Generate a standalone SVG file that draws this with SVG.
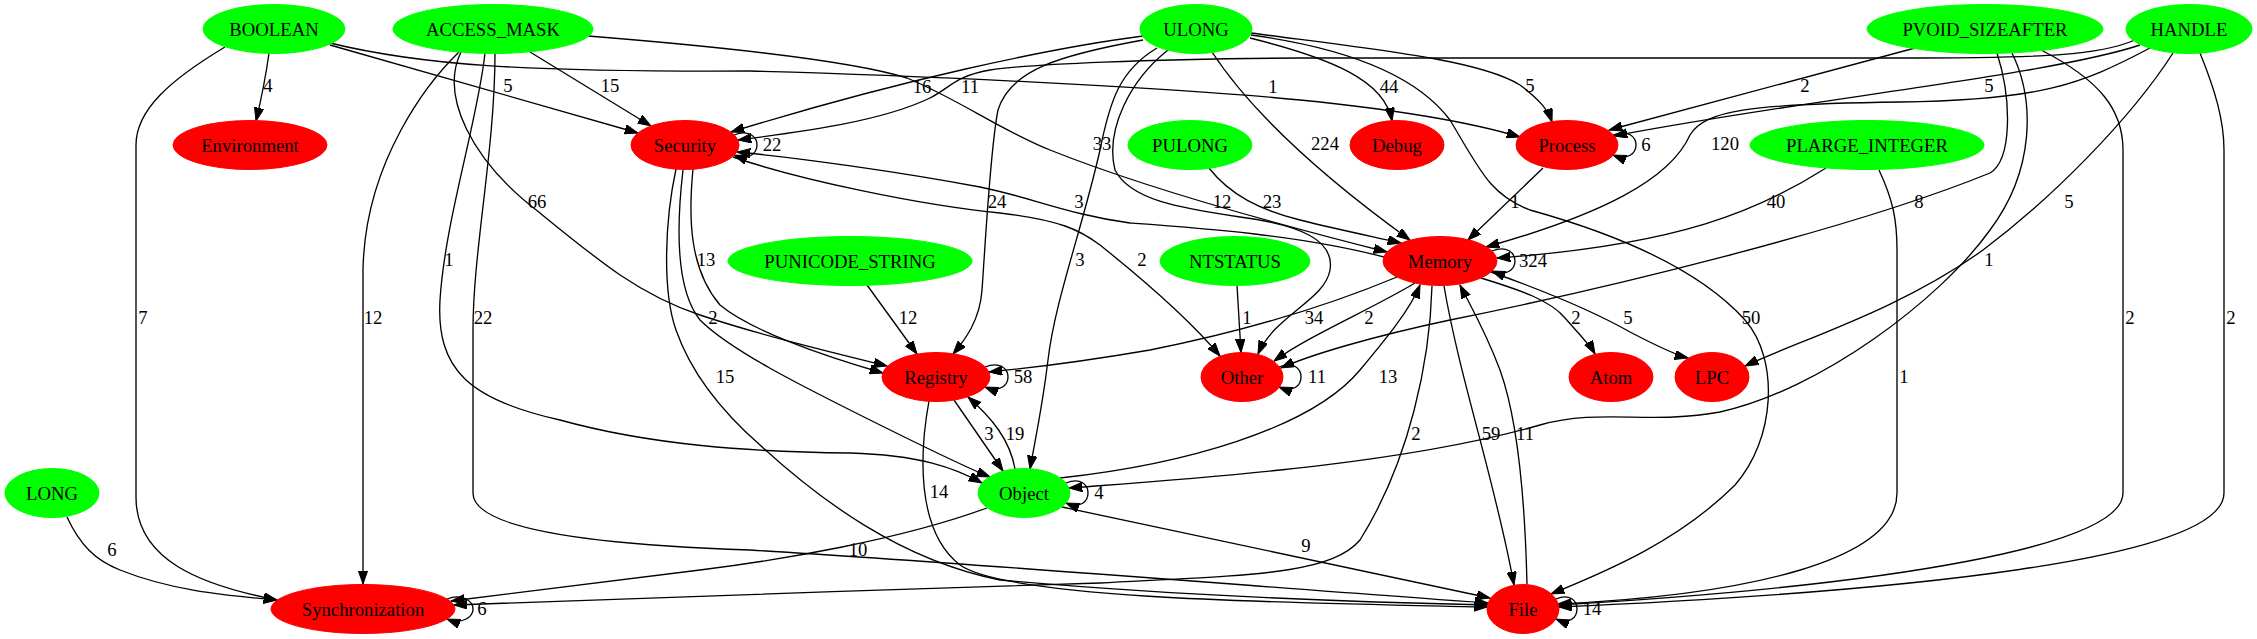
<svg xmlns="http://www.w3.org/2000/svg" width="2257" height="639" viewBox="0 0 2257 639">
<style>
.edge path{fill:none;stroke:#000;stroke-width:1.33;marker-end:url(#arr)}
text{font-family:"Liberation Serif","Times New Roman",serif;font-size:18.7px;text-anchor:middle;fill:#000}
.g ellipse{fill:#00ff00;stroke:#00ff00}
.r ellipse{fill:#ff0000;stroke:#ff0000}
</style>
<defs>
<marker id="arr" markerUnits="userSpaceOnUse" markerWidth="14" markerHeight="10" refX="13.3" refY="4.7" orient="auto">
<path d="M0,0 L13.3,4.7 L0,9.4 z" fill="#000" stroke="#000" stroke-width="1"/>
</marker>
</defs>
<rect width="2257" height="639" fill="#fff"/>
<g id="edges">
<g class="edge"><path d="M269,53 C266,75 261,100 256,121"/><text x="268" y="92">4</text></g>
<g class="edge"><path d="M330,45 L638,133"/><text x="508" y="92">5</text></g>
<g class="edge"><path d="M330,43 C420,65 520,72 750,71 C950,76 1200,90 1300,100 C1400,110 1470,122 1520,137"/><text x="1273" y="93">1</text></g>
<g class="edge"><path d="M225,47 C170,80 136,110 136,145 L136,497 C136,560 200,585 277,600"/><text x="143" y="324">7</text></g>
<g class="edge"><path d="M530,52 L651,126"/><text x="610" y="92">15</text></g>
<g class="edge"><path d="M461,52 C440,95 470,160 540,213 C600,262 640,295 700,315 C760,335 830,352 887,366"/><text x="537" y="208">66</text></g>
<g class="edge"><path d="M485,53 C478,120 445,220 440,300 C436,370 470,400 560,420 C650,445 750,452 850,453 C920,455 955,468 982,483"/><text x="449" y="266">1</text></g>
<g class="edge"><path d="M459,52 C430,80 365,160 363,270 L363,584"/><text x="373" y="324">12</text></g>
<g class="edge"><path d="M495,53 C495,150 473,250 473,330 L473,493 C473,530 600,545 750,550 C1000,565 1300,590 1488,603"/><text x="483" y="324">22</text></g>
<g class="edge"><path d="M588,36 C700,45 850,60 907,78 C960,100 1000,130 1050,150 C1150,190 1280,225 1387,252"/><text x="1102" y="150">33</text></g>
<g class="edge"><path d="M1143,36 C1050,48 900,80 731,132"/><text x="922" y="93">16</text></g>
<g class="edge"><path d="M1143,40 C1060,55 1010,70 998,110 C990,150 985,250 982,290 C980,320 965,340 953,354"/><text x="997" y="208">24</text></g>
<g class="edge"><path d="M1157,48 C1120,70 1110,100 1100,150 C1082,230 1055,300 1048,360 C1042,410 1035,440 1030,469"/><text x="1080" y="266">3</text></g>
<g class="edge"><path d="M1212,52 C1250,110 1320,175 1410,240"/><text x="1325" y="150">224</text></g>
<g class="edge"><path d="M1168,50 C1130,80 1105,130 1115,170 C1130,200 1180,208 1240,217 C1300,225 1335,240 1330,270 C1325,300 1275,315 1258,354"/><text x="1222" y="208">12</text></g>
<g class="edge"><path d="M1250,38 C1330,58 1385,80 1392,121"/><text x="1389" y="93">44</text></g>
<g class="edge"><path d="M1251,33 C1380,50 1480,60 1520,85 C1540,100 1548,110 1552,122"/><text x="1530" y="92">5</text></g>
<g class="edge"><path d="M1251,35 C1360,50 1420,80 1450,120 C1480,170 1490,195 1530,210 C1620,235 1700,270 1745,320 C1780,360 1775,440 1735,485 C1680,540 1610,570 1551,594"/><text x="1751" y="324">50</text></g>
<g class="edge"><path d="M1209,168 C1230,195 1260,210 1300,220 C1340,230 1370,236 1401,243"/><text x="1272" y="208">23</text></g>
<g class="edge"><path d="M867,285 L917,354"/><text x="908" y="324">12</text></g>
<g class="edge"><path d="M1237,285.5 L1241,352.5"/><text x="1247" y="324">1</text></g>
<g class="edge"><path d="M1915,48 L1609,130"/><text x="1805" y="92">2</text></g>
<g class="edge"><path d="M1997,53 C2012,100 2012,160 1990,173 C1850,230 1600,290 1450,320 C1370,337 1310,355 1281,368"/><text x="1919" y="208">8</text></g>
<g class="edge"><path d="M2012,53 C2035,100 2035,170 1990,230 C1940,300 1820,390 1720,412 C1650,425 1600,408 1540,425 C1400,465 1200,478 1069,488"/><text x="1989" y="266">1</text></g>
<g class="edge"><path d="M2041,50 C2100,80 2123,110 2123,150 L2123,493 C2123,545 1900,585 1558,605"/><text x="2130" y="324">2</text></g>
<g class="edge"><path d="M2200,53 C2215,90 2224,120 2224,150 L2224,493 C2224,560 1900,592 1559,607"/><text x="2231" y="324">2</text></g>
<g class="edge"><path d="M2135,40 C2100,55 2050,58 1900,58 L1300,58 C1150,59 1030,64 990,70 C955,76 950,88 930,98 C880,122 800,132 738,140"/><text x="970" y="93">11</text></g>
<g class="edge"><path d="M2140,45 C2050,75 1800,100 1614,136"/><text x="1989" y="92">5</text></g>
<g class="edge"><path d="M2150,48 C2080,85 2040,100 1900,102 C1750,104 1705,110 1690,135 C1670,180 1600,215 1486,247"/><text x="1725" y="150">120</text></g>
<g class="edge"><path d="M2173,53 C2130,120 2050,200 1983,250 C1900,310 1800,340 1745,366"/><text x="2069" y="208">5</text></g>
<g class="edge"><path d="M1826,168 C1760,210 1680,245 1497,258"/><text x="1776" y="208">40</text></g>
<g class="edge"><path d="M1879,170 C1893,200 1897,220 1897,250 L1897,493 C1897,560 1750,595 1558,604"/><text x="1904" y="383">1</text></g>
<g class="edge"><path d="M67,517 C80,545 95,560 120,570 C170,590 220,595 277,600"/><text x="112" y="556">6</text></g>
<g class="edge"><path d="M734,135 C749,129 757,137 757,145 C757,153 749,161 734,155"/><text x="772" y="151">22</text></g>
<g class="edge"><path d="M693,169 C688,220 690,270 720,305 C750,330 820,355 883,373"/><text x="706" y="266">13</text></g>
<g class="edge"><path d="M733,157 C800,180 920,205 1000,213 C1060,220 1080,230 1100,245 C1150,285 1190,320 1220,356"/><text x="1142" y="266">2</text></g>
<g class="edge"><path d="M683,170 C676,230 676,290 700,320 C730,350 800,385 860,415 C920,445 960,465 990,477"/><text x="713" y="324">2</text></g>
<g class="edge"><path d="M676,169 C665,220 662,290 676,330 C690,370 720,410 760,445 C820,500 900,560 1000,580 C1200,598 1400,603 1488,605"/><text x="725" y="383">15</text></g>
<g class="edge"><path d="M1384,257 C1300,235 1200,228 1130,223 C1070,215 1030,197 980,187 C900,172 800,158 737,152"/><text x="1079" y="208">3</text></g>
<g class="edge"><path d="M1613,135 C1628,129 1636,137 1636,145 C1636,153 1628,161 1613,155"/><text x="1646" y="151">6</text></g>
<g class="edge"><path d="M1543,168 L1468,240"/><text x="1515" y="208">1</text></g>
<g class="edge"><path d="M1492,251 C1507,245 1515,253 1515,261 C1515,269 1507,277 1492,271"/><text x="1533" y="267">324</text></g>
<g class="edge"><path d="M1397,277 C1330,305 1250,330 1150,350 C1080,362 1030,368 989,372"/><text x="1314" y="324">34</text></g>
<g class="edge"><path d="M1415,283 C1370,310 1310,335 1274,361"/><text x="1369" y="324">2</text></g>
<g class="edge"><path d="M1481,278 C1520,290 1550,300 1565,318 C1580,335 1590,345 1595,354"/><text x="1576" y="324">2</text></g>
<g class="edge"><path d="M1491,272 C1550,293 1600,315 1630,332 C1655,345 1675,355 1688,358"/><text x="1628" y="324">5</text></g>
<g class="edge"><path d="M1444,286 C1460,380 1495,480 1514,585"/><text x="1491" y="440">59</text></g>
<g class="edge"><path d="M1432,286 C1430,360 1410,460 1360,540 C1330,575 1250,575 1100,583 C900,590 600,598 454,605"/><text x="1416" y="440">2</text></g>
<g class="edge"><path d="M985,367 C1000,361 1008,369 1008,377 C1008,385 1000,393 985,387"/><text x="1023" y="383">58</text></g>
<g class="edge"><path d="M954,400 L1003,471"/><text x="989" y="440">3</text></g>
<g class="edge"><path d="M929,401 C920,450 915,530 960,565 C1010,600 1300,603 1487,607"/><text x="939" y="498">14</text></g>
<g class="edge"><path d="M1279,367 C1294,361 1301,369 1301,377 C1301,385 1294,393 1279,387"/><text x="1317" y="383">11</text></g>
<g class="edge"><path d="M1015,469 C1010,440 992,418 968,397"/><text x="1015" y="440">19</text></g>
<g class="edge"><path d="M1066,483 C1081,477 1088,485 1088,493 C1088,501 1081,509 1066,503"/><text x="1099" y="499">4</text></g>
<g class="edge"><path d="M1060,478 C1180,465 1310,430 1360,370 C1385,340 1410,310 1420,285"/><text x="1388" y="383">13</text></g>
<g class="edge"><path d="M987,508 C900,540 780,560 700,570 C600,582 520,593 451,601"/><text x="858" y="556">10</text></g>
<g class="edge"><path d="M1062,507 L1490,598"/><text x="1306" y="552">9</text></g>
<g class="edge"><path d="M447,599 C462,593 473,601 473,609 C473,617 462,625 447,619"/><text x="482" y="615">6</text></g>
<g class="edge"><path d="M1556,599 C1570,593 1577,601 1577,609 C1577,617 1570,625 1556,619"/><text x="1592" y="615">14</text></g>
<g class="edge"><path d="M1527,584.6 C1525,500 1518,420 1500,370 C1485,330 1470,305 1460,285"/><text x="1525" y="440">11</text></g>
</g>
<g id="node-BOOLEAN" class="g"><ellipse cx="274" cy="29" rx="71" ry="24.5"/><text x="274" y="35.5">BOOLEAN</text></g>
<g id="node-ACCESS_MASK" class="g"><ellipse cx="493" cy="29" rx="100" ry="24.5"/><text x="493" y="35.5">ACCESS_MASK</text></g>
<g id="node-ULONG" class="g"><ellipse cx="1196" cy="29" rx="56" ry="24.5"/><text x="1196" y="35.5">ULONG</text></g>
<g id="node-PVOID_SIZEAFTER" class="g"><ellipse cx="1985" cy="29" rx="118" ry="24.5"/><text x="1985" y="35.5">PVOID_SIZEAFTER</text></g>
<g id="node-HANDLE" class="g"><ellipse cx="2189" cy="29" rx="63" ry="24.5"/><text x="2189" y="35.5">HANDLE</text></g>
<g id="node-Environment" class="r"><ellipse cx="250" cy="145" rx="77" ry="24.5"/><text x="250" y="151.5">Environment</text></g>
<g id="node-Security" class="r"><ellipse cx="685" cy="145" rx="54" ry="24.5"/><text x="685" y="151.5">Security</text></g>
<g id="node-PULONG" class="g"><ellipse cx="1190" cy="145" rx="62" ry="24.5"/><text x="1190" y="151.5">PULONG</text></g>
<g id="node-Debug" class="r"><ellipse cx="1397" cy="145" rx="47" ry="24.5"/><text x="1397" y="151.5">Debug</text></g>
<g id="node-Process" class="r"><ellipse cx="1567" cy="145" rx="51" ry="24.5"/><text x="1567" y="151.5">Process</text></g>
<g id="node-PLARGE_INTEGER" class="g"><ellipse cx="1867" cy="145" rx="117" ry="24.5"/><text x="1867" y="151.5">PLARGE_INTEGER</text></g>
<g id="node-PUNICODE_STRING" class="g"><ellipse cx="850" cy="261" rx="122" ry="24.5"/><text x="850" y="267.5">PUNICODE_STRING</text></g>
<g id="node-NTSTATUS" class="g"><ellipse cx="1235" cy="261" rx="75" ry="24.5"/><text x="1235" y="267.5">NTSTATUS</text></g>
<g id="node-Memory" class="r"><ellipse cx="1440" cy="261" rx="57" ry="24.5"/><text x="1440" y="267.5">Memory</text></g>
<g id="node-Registry" class="r"><ellipse cx="936" cy="377" rx="54" ry="24.5"/><text x="936" y="383.5">Registry</text></g>
<g id="node-Other" class="r"><ellipse cx="1242" cy="377" rx="41" ry="24.5"/><text x="1242" y="383.5">Other</text></g>
<g id="node-Atom" class="r"><ellipse cx="1611" cy="377" rx="42" ry="24.5"/><text x="1611" y="383.5">Atom</text></g>
<g id="node-LPC" class="r"><ellipse cx="1712" cy="377" rx="37" ry="24.5"/><text x="1712" y="383.5">LPC</text></g>
<g id="node-LONG" class="g"><ellipse cx="52" cy="493" rx="47" ry="24.5"/><text x="52" y="499.5">LONG</text></g>
<g id="node-Object" class="g"><ellipse cx="1024" cy="493" rx="46" ry="24.5"/><text x="1024" y="499.5">Object</text></g>
<g id="node-Synchronization" class="r"><ellipse cx="363" cy="609" rx="92" ry="24.5"/><text x="363" y="615.5">Synchronization</text></g>
<g id="node-File" class="r"><ellipse cx="1523" cy="609" rx="36" ry="24.5"/><text x="1523" y="615.5">File</text></g>
</svg>
